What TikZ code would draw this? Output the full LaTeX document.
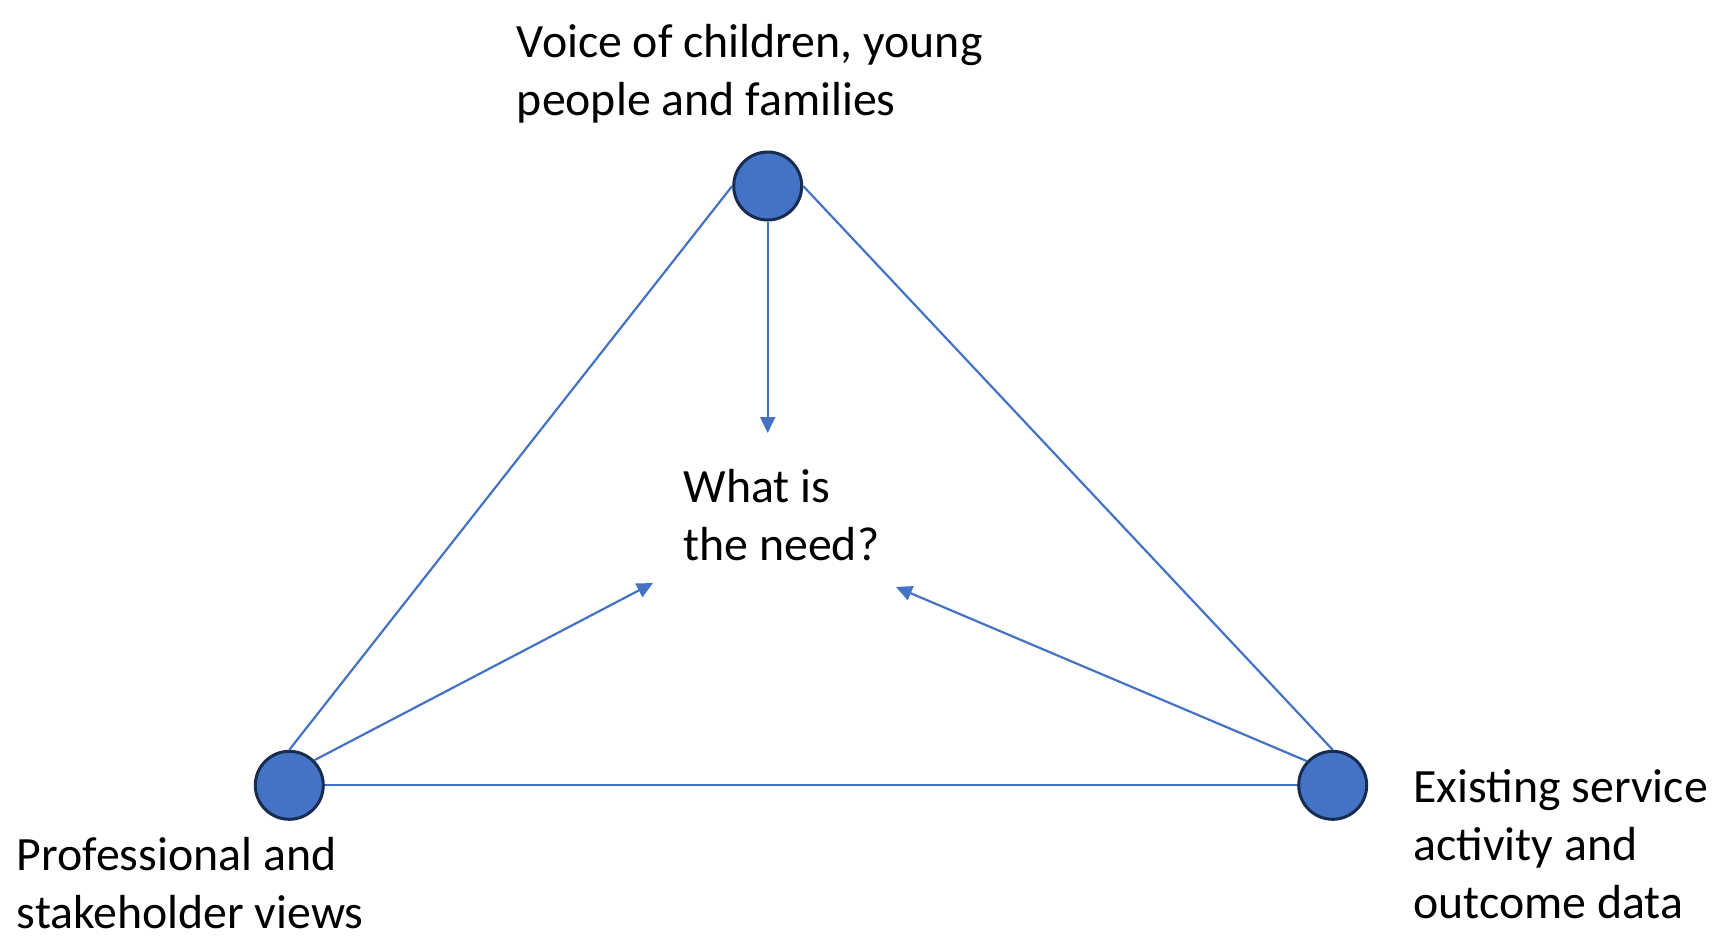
\documentclass[tikz,border=0pt]{standalone}
\usepackage{fontspec}
\setmainfont{Carlito}
\usetikzlibrary{arrows.meta}
\definecolor{accent}{HTML}{4472C4}
\definecolor{rim}{HTML}{172C51}
\tikzset{
  hub/.style={circle, fill=accent, draw=rim, line width=3pt, minimum size=68pt, inner sep=0pt},
  edge/.style={draw=accent, line width=2.2pt},
  feed/.style={draw=accent, line width=2.2pt, -{Triangle[length=16pt,width=15pt]}},
  lbl/.style={align=left, anchor=base west, inner sep=0pt, font=\fontsize{47.8}{58}\selectfont}
}
\begin{document}
\begin{tikzpicture}[x=1pt,y=-1pt]
\useasboundingbox (0,0) rectangle (1713,935);
\node[hub] (top) at (767.7,186) {};
\node[hub] (left) at (289.3,785.3) {};
\node[hub] (right) at (1332.7,785.3) {};
\coordinate (t1) at (767.7,433);
\coordinate (t2) at (653,583);
\coordinate (t3) at (896,587);
\path[edge] (top.west) -- (left.north);
\path[edge] (top.east) -- (right.north);
\path[edge] (left.east) -- (right.west);
\path[feed] (top.south) -- (t1);
\path[feed] (left.45) -- (t2);
\path[feed] (right.137) -- (t3);
\node[lbl] (ttop) at (516.7,115.3) {Voice of children, young\\people and families};
\node[lbl] (tmid) at (683.3,560) {What is\\the need?};
\node[lbl] (tleft) at (16.7,928) {Professional and\\stakeholder views};
\node[lbl] (tright) at (1413.3,918) {Existing service\\activity and\\outcome data};
\end{tikzpicture}
\end{document}
